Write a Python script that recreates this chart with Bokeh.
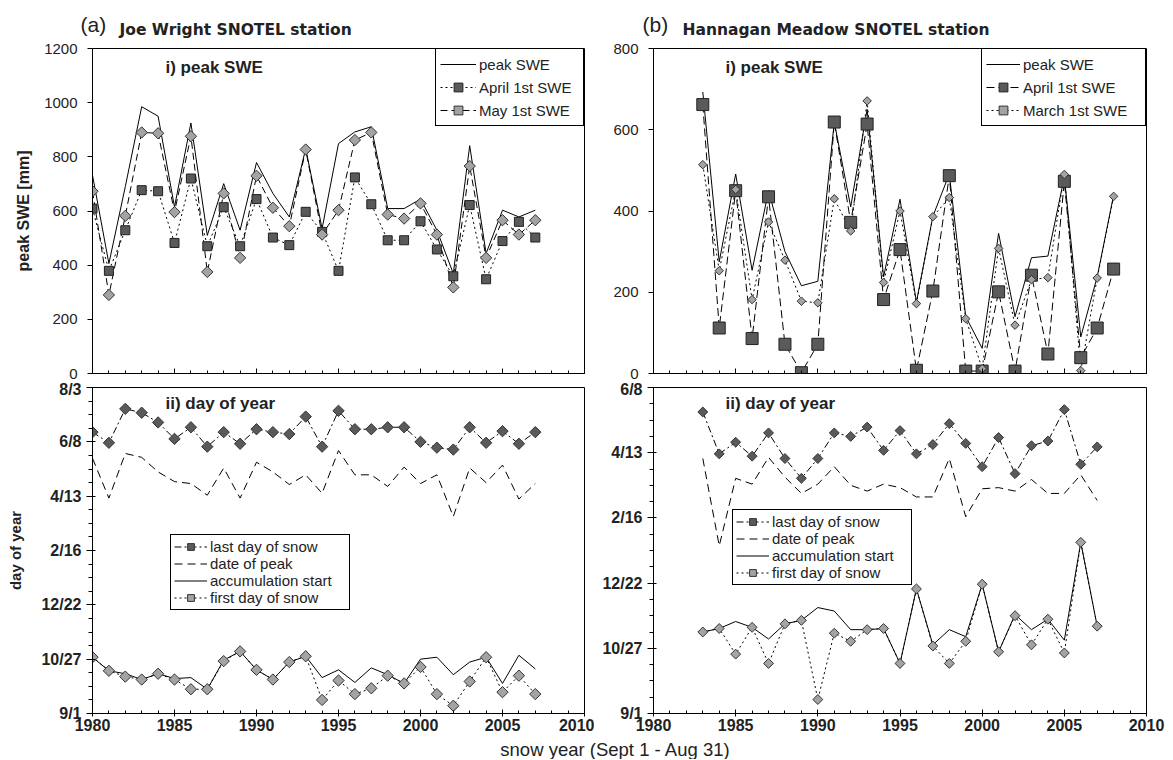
import math
from bokeh.plotting import figure
from bokeh.layouts import column, row
from bokeh.models import Range1d, FixedTicker, Label, Legend, LegendItem
from bokeh.embed import file_html
from bokeh.resources import INLINE

FONT = "Liberation Sans"
WIDE = "DejaVu Sans"

# ---------------- data ----------------
# (a) Joe Wright SNOTEL station
years_a = list(range(1980, 2008))
peak_swe_a = [732, 406, 690, 985, 950, 615, 925, 510, 701, 529, 779, 665, 578, 830, 535,
              849, 892, 911, 609, 609, 644, 529, 369, 841, 443, 603, 578, 603]
apr1_swe_a = [609, 379, 529, 677, 673, 482, 720, 470, 614, 470, 644, 502, 474, 597, 523,
              379, 724, 625, 492, 492, 562, 458, 359, 622, 348, 489, 560, 502]
may1_swe_a = [673, 290, 582, 890, 887, 596, 876, 375, 665, 427, 730, 612, 544, 827, 513,
              603, 862, 890, 587, 572, 628, 513, 318, 766, 427, 566, 513, 566]
# days since Sept 1
last_snow_a = [290, 279, 314, 310, 300, 283, 295, 275, 290, 278, 293, 290, 288, 306, 275,
               312, 293, 293, 295, 295, 280, 274, 272, 295, 279, 291, 278, 290]
peak_date_a = [263, 222, 268, 264, 249, 239, 237, 225, 253, 222, 259, 249, 236, 246, 227,
               271, 246, 246, 234, 254, 237, 246, 203, 253, 238, 256, 221, 237]
accum_start_a = [58, 44, 41, 35, 41, 36, 37, 25, 55, 64, 45, 35, 53, 59, 37,
                 45, 32, 47, 40, 31, 56, 58, 40, 53, 58, 31, 60, 46]
first_snow_a = [58, 44, 38, 35, 41, 35, 25, 25, 54, 64, 45, 35, 53, 59, 14,
                34, 20, 26, 39, 31, 48, 20, 8, 33, 58, 22, 39, 20]

# (b) Hannagan Meadow SNOTEL station
years_b_swe = list(range(1983, 2009))
peak_swe_b = [693, 275, 491, 254, 450, 300, 216, 227, 619, 410, 650, 238, 429,
              176, 387, 491, 140, 62, 345, 140, 285, 289, 484, 90, 238, 439]
apr1_swe_b = [662, 112, 450, 86, 435, 72, 2, 72, 619, 372, 614, 182, 305,
              8, 203, 487, 6, 6, 201, 6, 242, 48, 473, 39, 112, 257]
mar1_swe_b = [514, 253, 453, 182, 373, 279, 178, 174, 430, 351, 671, 224, 400,
              172, 386, 433, 135, 12, 308, 119, 231, 236, 490, 7, 235, 436]
years_b_doy = list(range(1983, 2008))
last_snow_b = [259, 223, 233, 221, 241, 219, 202, 219, 241, 238, 246, 226, 243,
               223, 231, 249, 232, 212, 237, 206, 230, 234, 261, 214, 229]
peak_date_b = [219, 144, 202, 197, 220, 203, 189, 197, 212, 196, 191, 197, 194,
               186, 186, 219, 169, 193, 194, 191, 201, 189, 189, 205, 183]
accum_start_b = [70, 73, 79, 74, 64, 77, 80, 91, 88, 72, 72, 73, 43,
                 107, 59, 72, 66, 111, 53, 85, 72, 81, 63, 147, 75]
first_snow_b = [70, 73, 51, 74, 43, 77, 80, 12, 69, 62, 72, 73, 43,
                107, 58, 43, 62, 111, 53, 84, 59, 81, 52, 147, 75]

# ticks
x_ticks = [1980, 1985, 1990, 1995, 2000, 2005, 2010]
swe_ticks_a = [0, 200, 400, 600, 800, 1000, 1200]
swe_ticks_b = [0, 200, 400, 600, 800]
doy_labels_a = ["9/1", "10/27", "12/22", "2/16", "4/13", "6/8", "8/3"]
doy_labels_b = ["9/1", "10/27", "12/22", "2/16", "4/13", "6/8"]
DOY_STEP = 56

DARK = "#5a5a5a"
LIGHT = "#a3a3a3"
TXT = "#222222"


def base_fig(width, height, y_end, left, right, top, bottom):
    p = figure(width=width, height=height, x_range=Range1d(1980, 2010),
               y_range=Range1d(0, y_end), output_backend="svg", toolbar_location=None,
               min_border_left=left, min_border_right=right,
               min_border_top=top, min_border_bottom=bottom)
    p.xgrid.visible = False
    p.ygrid.visible = False
    p.outline_line_color = "black"
    p.outline_line_alpha = 1
    p.background_fill_color = "white"
    p.border_fill_color = "white"
    xa = p.xaxis[0]
    xa.ticker = FixedTicker(ticks=x_ticks, minor_ticks=list(range(1980, 2011)))
    xa.axis_line_color = "black"
    xa.major_tick_line_color = "black"
    xa.minor_tick_line_color = "black"
    ya = p.yaxis[0]
    ya.axis_line_color = "black"
    ya.major_tick_line_color = "black"
    ya.minor_tick_line_color = "black"
    return p


def swe_axes(p, ticks):
    xa = p.xaxis[0]
    xa.major_tick_in = 5
    xa.major_tick_out = 0
    xa.minor_tick_in = 3
    xa.minor_tick_out = 0
    xa.major_label_text_font_size = "1px"
    xa.major_label_text_color = None
    xa.major_label_standoff = 0
    ya = p.yaxis[0]
    ya.ticker = FixedTicker(ticks=ticks, minor_ticks=[])
    ya.major_tick_in = 0
    ya.major_tick_out = 5
    ya.major_label_standoff = 10
    ya.major_label_text_font = FONT
    ya.major_label_text_font_size = "15px"
    ya.major_label_text_color = TXT


def doy_axes(p, labels):
    xa = p.xaxis[0]
    xa.major_tick_in = 4
    xa.major_tick_out = 3
    xa.minor_tick_in = 3
    xa.minor_tick_out = 0
    xa.major_label_standoff = 2
    xa.major_label_text_font = FONT
    xa.major_label_text_font_size = "16px"
    xa.major_label_text_font_style = "bold"
    xa.major_label_text_color = TXT
    ya = p.yaxis[0]
    ticks = [i * DOY_STEP for i in range(len(labels))]
    minors = list(range(0, ticks[-1] + 1, DOY_STEP // 4))
    ya.ticker = FixedTicker(ticks=ticks, minor_ticks=minors)
    ya.major_label_overrides = {t: lab for t, lab in zip(ticks, labels)}
    ya.major_tick_in = 3
    ya.major_tick_out = 6
    ya.minor_tick_in = 0
    ya.minor_tick_out = 4
    ya.major_label_standoff = 5
    ya.major_label_text_font = FONT
    ya.major_label_text_font_size = "16px"
    ya.major_label_text_font_style = "bold"
    ya.major_label_text_color = TXT


def ylabel(p, text, size, standoff):
    ya = p.yaxis[0]
    ya.axis_label = text
    ya.axis_label_text_font = FONT
    ya.axis_label_text_font_size = size
    ya.axis_label_text_font_style = "bold"
    ya.axis_label_text_color = TXT
    ya.axis_label_standoff = standoff


def add_text(p, x, y, text, size, bold=True, baseline="middle", units="screen",
             align="left", font=FONT):
    p.add_layout(Label(x=x, y=y, x_units=units, y_units=units, text=text,
                       text_font=font, text_font_size=size,
                       text_font_style="bold" if bold else "normal",
                       text_color=TXT, text_baseline=baseline, text_align=align))


def make_legend(items, location, padding, glyph_w, glyph_h, label_w, spacing):
    return Legend(items=items, location=location, margin=0, padding=padding,
                  spacing=spacing, glyph_width=glyph_w, glyph_height=glyph_h,
                  label_height=glyph_h, label_width=label_w, label_standoff=3,
                  label_text_font=FONT, label_text_font_size="15px",
                  label_text_color=TXT,
                  border_line_color="black", border_line_width=1, border_line_alpha=1,
                  background_fill_color="white", background_fill_alpha=1)


def diamond(p, x, y, size, fill):
    return p.scatter(x, y, marker="square", angle=math.pi / 4, size=size,
                     fill_color=fill, line_color="#333333", line_width=1)


def strip(width, height):
    s = figure(width=width, height=height, x_range=Range1d(0, width),
               y_range=Range1d(0, height), output_backend="svg", title=None,
               x_axis_location=None, y_axis_location=None,
               toolbar_location=None, min_border=0)
    s.xgrid.visible = False
    s.ygrid.visible = False
    s.outline_line_color = None
    s.background_fill_color = "white"
    s.border_fill_color = "white"
    return s


# ---------------- titles strip ----------------
pt = strip(1173, 38)
add_text(pt, 80, 14, "(a)", "21px", bold=False, units="data")
add_text(pt, 119, 9, "Joe Wright SNOTEL station", "15.5px", units="data", font=WIDE)
add_text(pt, 642, 14, "(b)", "21px", bold=False, units="data")
add_text(pt, 682, 9, "Hannagan Meadow SNOTEL station", "15.5px", units="data", font=WIDE)

# ---------------- (a) top: peak SWE ----------------
pa1 = base_fig(610, 342, 1200, 92, 26, 10, 7)
swe_axes(pa1, swe_ticks_a)
ylabel(pa1, "peak SWE [mm]", "16px", 9)
r_peak = pa1.line(years_a, peak_swe_a, line_color="black", line_width=1)
r_apr_l = pa1.line(years_a, apr1_swe_a, line_color="black", line_width=1, line_dash="2 3")
r_may_l = pa1.line(years_a, may1_swe_a, line_color="black", line_width=1, line_dash="7 4")
r_apr_p = pa1.scatter(years_a, apr1_swe_a, marker="square", size=9, fill_color=DARK,
                      line_color="#222222")
r_may_p = diamond(pa1, years_a, may1_swe_a, 8, LIGHT)
pa1.add_layout(make_legend([
    LegendItem(label="peak SWE", renderers=[r_peak]),
    LegendItem(label="April 1st SWE", renderers=[r_apr_l, r_apr_p]),
    LegendItem(label="May 1st SWE", renderers=[r_may_l, r_may_p]),
], "top_right", 4, 36, 22, 100, 1))
add_text(pa1, 73, 306, "i) peak SWE", "17px")

# ---------------- (b) top: peak SWE ----------------
pb1 = base_fig(563, 342, 800, 43, 27, 10, 7)
swe_axes(pb1, swe_ticks_b)
q_peak = pb1.line(years_b_swe, peak_swe_b, line_color="black", line_width=1)
q_apr_l = pb1.line(years_b_swe, apr1_swe_b, line_color="black", line_width=1, line_dash="8 4")
q_mar_l = pb1.line(years_b_swe, mar1_swe_b, line_color="black", line_width=1, line_dash="2 3")
q_apr_p = pb1.scatter(years_b_swe, apr1_swe_b, marker="square", size=12, fill_color=DARK,
                      line_color="#222222")
q_mar_p = diamond(pb1, years_b_swe, mar1_swe_b, 6, LIGHT)
pb1.add_layout(make_legend([
    LegendItem(label="peak SWE", renderers=[q_peak]),
    LegendItem(label="April 1st SWE", renderers=[q_apr_l, q_apr_p]),
    LegendItem(label="March 1st SWE", renderers=[q_mar_l, q_mar_p]),
], "top_right", 4, 34, 22, 118, 1))
add_text(pb1, 72, 306, "i) peak SWE", "17px")


def doy_panel(p, yrs, last, peak, accum, first, dsize):
    l_last = p.line(yrs, last, line_color="black", line_width=1, line_dash="7 3 2 3")
    l_peak = p.line(yrs, peak, line_color="black", line_width=1, line_dash="8 5")
    l_acc = p.line(yrs, accum, line_color="black", line_width=1)
    l_first = p.line(yrs, first, line_color="black", line_width=1, line_dash="2 3")
    m_last = diamond(p, yrs, last, dsize, DARK)
    m_first = diamond(p, yrs, first, dsize, LIGHT)
    return [
        LegendItem(label="last day of snow", renderers=[l_last, m_last]),
        LegendItem(label="date of peak", renderers=[l_peak]),
        LegendItem(label="accumulation start", renderers=[l_acc]),
        LegendItem(label="first day of snow", renderers=[l_first, m_first]),
    ]


# ---------------- (a) bottom: day of year ----------------
pa2 = base_fig(594, 360, DOY_STEP * (len(doy_labels_a) - 1), 92, 10, 7, 27)
doy_axes(pa2, doy_labels_a)
ylabel(pa2, "day of year", "15px", 14)
items = doy_panel(pa2, years_a, last_snow_a, peak_date_a, accum_start_a, first_snow_a, 8)
pa2.add_layout(make_legend(items, (78, 103), 3, 33, 17, 136, 0))
add_text(pa2, 73, 310, "ii) day of year", "17px")

# ---------------- (b) bottom: day of year ----------------
pb2 = base_fig(579, 360, DOY_STEP * (len(doy_labels_b) - 1), 59, 27, 7, 27)
doy_axes(pb2, doy_labels_b)
items = doy_panel(pb2, years_b_doy, last_snow_b, peak_date_b, accum_start_b, first_snow_b, 7)
pb2.add_layout(make_legend(items, (79, 128), 3, 33, 17, 136, 0))
add_text(pb2, 72, 310, "ii) day of year", "17px")

# ---------------- shared x label ----------------
pl = strip(1173, 19)
add_text(pl, 615, 10, "snow year (Sept 1 - Aug 31)", "18.5px", bold=False, units="data",
         align="center")

layout = column(pt, row(pa1, pb1), row(pa2, pb2), pl)
open("out.html", "w").write(file_html(layout, INLINE))
